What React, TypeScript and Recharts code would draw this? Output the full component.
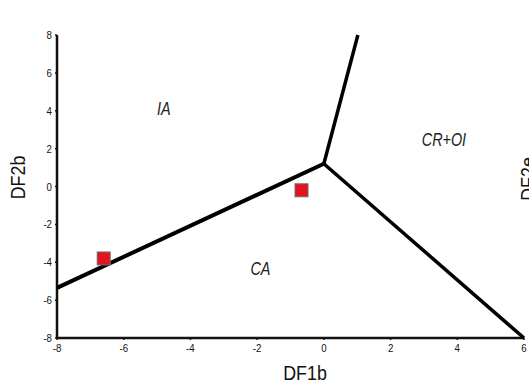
import React from 'react';
import { ScatterChart, Scatter, XAxis, YAxis } from 'recharts';

const xTicks = [-8, -6, -4, -2, 0, 2, 4, 6];
const yTicks = [-8, -6, -4, -2, 0, 2, 4, 6, 8];

// discriminant boundaries (all meet at the triple point)
const leftBoundary = [{ x: -8, y: -5.35 }, { x: 0, y: 1.2 }];
const topBoundary = [{ x: 0, y: 1.2 }, { x: 1.02, y: 8 }];
const rightBoundary = [{ x: 0, y: 1.2 }, { x: 6, y: -8 }];

const samples = [
  { x: -6.6, y: -3.8 },
  { x: -0.67, y: -0.2 },
];

const fieldNames = [
  { x: -4.8, y: 4.1, name: 'IA' },
  { x: 3.6, y: 2.5, name: 'CR+OI' },
  { x: -1.9, y: -4.3, name: 'CA' },
];

const FONT = '"Liberation Sans", Arial, sans-serif';
const INK = '#111';

const NoDot = () => null;

const SquareMark = (props: any) => {
  const { cx, cy } = props;
  return <rect x={cx - 6.5} y={cy - 6.5} width={13} height={13} fill="#e2141f" stroke="#6f6f6f" strokeWidth={1} />;
};

const FieldText = (props: any) => {
  const { cx, cy, payload } = props;
  return (
    <text
      transform={`translate(${cx},${cy}) scale(0.8,1)`}
      textAnchor="middle"
      dominantBaseline="central"
      fontStyle="italic"
      fontSize={18}
      fill="#222"
      fontFamily={FONT}
    >
      {payload.name}
    </text>
  );
};

const XTick = (props: any) => {
  const { x, y, payload } = props;
  return (
    <text transform={`translate(${x},${y + 10}) scale(0.88,1)`} textAnchor="middle" fontSize={11} fill={INK} fontFamily={FONT}>
      {payload.value}
    </text>
  );
};

const YTick = (props: any) => {
  const { x, y, payload } = props;
  return (
    <text transform={`translate(${x - 1},${y + 4}) scale(0.88,1)`} textAnchor="end" fontSize={11} fill={INK} fontFamily={FONT}>
      {payload.value}
    </text>
  );
};

const XTitle = (props: any) => {
  const { viewBox } = props;
  const cx = viewBox.x + viewBox.width / 2 + 14.5;
  return (
    <text transform={`translate(${cx},${380}) scale(0.85,1)`} textAnchor="middle" fontSize={21} fill={INK} fontFamily={FONT}>
      DF1b
    </text>
  );
};

const YTitle = (props: any) => {
  const { viewBox } = props;
  const cy = viewBox.y + viewBox.height / 2 - 9;
  return (
    <text transform={`translate(25,${cy}) rotate(-90) scale(0.85,1)`} textAnchor="middle" fontSize={21} fill={INK} fontFamily={FONT}>
      DF2b
    </text>
  );
};

export default function App() {
  return (
    <div style={{ position: 'absolute', left: 0, top: 0, width: 529, height: 387, overflow: 'hidden', background: '#fff' }}>
      <ScatterChart width={529} height={387} margin={{ top: 35, right: 5, bottom: 0, left: 0 }}>
        <XAxis
          type="number"
          dataKey="x"
          domain={[-8, 6]}
          ticks={xTicks}
          axisLine={{ stroke: INK, strokeWidth: 2.5 }}
          tickLine={{ stroke: INK, strokeWidth: 1.5 }}
          tickSize={2}
          tick={<XTick />}
          height={49}
          label={<XTitle />}
        />
        <YAxis
          type="number"
          dataKey="y"
          domain={[-8, 8]}
          ticks={yTicks}
          axisLine={{ stroke: INK, strokeWidth: 2.5 }}
          tickLine={{ stroke: INK, strokeWidth: 1.5 }}
          tickSize={2}
          tick={<YTick />}
          width={57}
          label={<YTitle />}
        />
        <Scatter data={leftBoundary} line={{ stroke: '#000', strokeWidth: 4 }} lineJointType="linear" shape={NoDot} isAnimationActive={false} />
        <Scatter data={topBoundary} line={{ stroke: '#000', strokeWidth: 3.5 }} lineJointType="linear" shape={NoDot} isAnimationActive={false} />
        <Scatter data={rightBoundary} line={{ stroke: '#000', strokeWidth: 3.5 }} lineJointType="linear" shape={NoDot} isAnimationActive={false} />
        <Scatter data={samples} shape={SquareMark} isAnimationActive={false} />
        <Scatter data={fieldNames} shape={FieldText} isAnimationActive={false} />
      </ScatterChart>
      <svg width={529} height={387} style={{ position: 'absolute', left: 0, top: 0, pointerEvents: 'none' }}>
        <text transform="translate(535,179) rotate(-90) scale(0.85,1)" textAnchor="middle" fontSize={21} fill={INK} fontFamily={FONT}>
          DF2e
        </text>
      </svg>
    </div>
  );
}
